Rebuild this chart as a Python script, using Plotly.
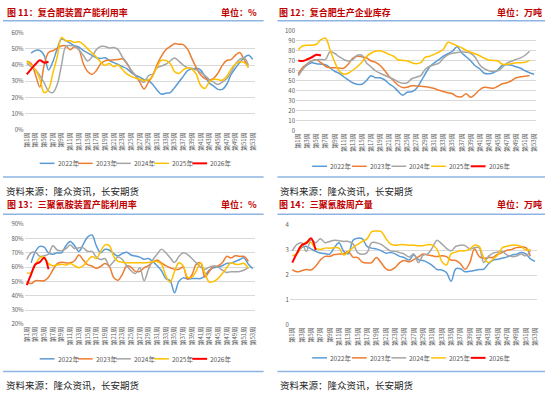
import plotly.graph_objects as go

W, H = 550, 399

WEEKS = list(range(1, 54))
TICK_WEEKS = list(range(1, 54, 2))
TICK_TEXT = [f"第{w}周" for w in TICK_WEEKS]
YEARS = ["2022年", "2023年", "2024年", "2025年", "2026年"]
COLORS = ["#5B9BD5", "#ED7D31", "#A5A5A5", "#FFC000", "#FF0000"]
WIDTHS = [1.5, 1.5, 1.5, 1.5, 2.0]

# ---------- 图11 复合肥装置产能利用率 (%) ----------
cf_util_2022 = [None, 47.4, 49, 49, 46, 37, 42, 50, 56, 55, 53.5, 52, 51, 49, 47.5, 46, 44.5, 44, 44.5,
                42.8, 41.5, 40.4, 39, 37.8, 35.5, 33.8, 32.5, 31, 30.3, 28, 24.5, 22, 22.6, 23, 26, 29.5,
                33, 36.5, 37.5, 38, 37, 33, 29, 27, 25, 25, 28, 34, 38, 41.5, 44.5, 46, 43.5]
cf_util_2023 = [42.4, 41, 34, 26.5, 40, 47.8, 48.8, 50.3, 51.8, 51.8, 49.4, 51.3, 49.4, 41, 36, 34.2, 36.5,
                40.8, 42.6, 43, 43.2, 43.4, 43.8, 41, 36.8, 33.5, 29.5, 25.2, 29.5, 33.5, 40.4, 45.5, 49.4,
                51.4, 53.2, 52.8, 52.6, 49.8, 44, 38.4, 34, 31.6, 30.8, 31.8, 35, 39.8, 42.8, 43.4, 46,
                47.8, 43.4, 38.5]
cf_util_2024 = [41, 39, 37, 33.5, 29, 24, 23, 28, 40, 51.5, 52, 51.5, 49.4, 46, 42.5, 45, 49.5, 51.5, 51.5,
                50.5, 50.8, 49.5, 45, 41.5, 37, 33.5, 30.5, 29.4, 33.4, 34.5, 38.4, 39.4, 40.5, 42.5, 44.4,
                42.4, 40, 38.4, 38, 37, 35.5, 33.5, 31, 29.4, 28, 29.5, 31.5, 35.5, 40.5, 43.5, 44.5, 40]
cf_util_2025 = [42.4, 40, 37, 31.5, 23, 25, 35, 45, 57, 55, 55, 54, 54.4, 52.8, 50, 47.5, 45, 41.8, 39.8,
                41, 39, 40, 37.2, 34.5, 33, 32, 31.2, 30.4, 30.8, 33.5, 39, 43, 42.8, 41, 36, 34.8, 37,
                38.4, 37.5, 34.4, 27.5, 25.5, 29.5, 31.2, 31, 30.6, 33, 37.5, 40.5, 42, 41.6, 38.6]
cf_util_2026 = [34.2, 37.5, 40.5, 43, 41.5, 42]

# ---------- 图12 复合肥生产企业库存 (万吨) ----------
cf_inv_2022 = [57, 62, 66, 68, 67, 66.5, 66, 63, 59.5, 57.5, 54, 51, 48, 46.5, 46.5, 50, 55, 53, 53, 51,
               47, 44, 39.5, 35.5, 38.5, 39, 42, 49, 57, 64, 68, 71, 74.5, 77, 79.5, 84, 78, 74, 70, 65,
               62, 57.5, 57, 58, 61, 65.5, 66, 65.5, 64, 62.5, 60, 58, 56.5]
cf_inv_2023 = [57, 63.5, 67, 70, 71, 68, 64.5, 63, 63, 62.8, 62.5, 66.5, 72.5, 74.5, 74, 73, 70, 68.5,
               65.5, 60.5, 54.5, 50, 45.5, 43.2, 43.5, 45, 44.8, 44.5, 44, 43.3, 42.2, 40.5, 39.3, 38, 37,
               34.2, 34, 37, 33.6, 36.5, 41, 43.5, 43, 42.5, 44.5, 47, 48, 50, 53, 54, 54.5, 55.2]
cf_inv_2024 = [55, 61.5, 67, 69.7, 71, 71.3, 71.3, 79, 77.5, 74, 71.3, 69.7, 71, 75.5, 75.5, 68, 64, 60,
               57.5, 55.5, 53.5, 51.5, 49, 47.5, 48, 52, 53.5, 55.2, 61.5, 64.5, 66, 67.5, 72.5, 76, 77.4,
               78.2, 78.7, 78.5, 77.5, 73.5, 66, 62, 60, 59.4, 60, 63.5, 67.5, 69.5, 71.3, 72.8, 75.5, 79.5]
cf_inv_2025 = [81, 85, 85.5, 85.5, 86.5, 91, 92.5, 81, 69, 60, 56.5, 57.5, 60.5, 64, 68.5, 74, 77.5, 79.5,
               80, 78.5, 76.5, 74.5, 71, 70.3, 70, 68, 67, 68, 73.5, 74.5, 76.5, 78.5, 81.5, 88.4, 87, 85,
               83, 80.5, 78.5, 77, 75, 72.5, 70.8, 70.3, 69.7, 66.5, 66.5, 67, 68, 68, 68.5, 70.3]
cf_inv_2026 = [70.3, 69.8, 71.5, 73.5, 76, 75.2]

# ---------- 图13 三聚氰胺装置产能利用率 (%) ----------
mel_util_2022 = [None, 63, 71, 74.5, 74, 70, 69, 70, 70, 75, 78, 75, 71, 76, 81, 82.5, 75, 70, 72.5, 72,
                 69.5, 67.8, 69.5, 70.4, 68.5, 67.8, 67, 65.5, 66, 64, 61, 57.5, 52, 50.5, 42, 50, 52.5,
                 51.8, 52, 52.1, 52, 54, 58, 59.6, 60.2, 61, 62.5, 62.8, 64, 65.3, 66.5, 62, 59]
mel_util_2023 = [49.4, 48.5, 50.5, 50.5, 50.5, 53, 58, 62.5, 63.5, 63, 63, 64.5, 68.5, 65, 61.8, 60.8, 59.2,
                 60.5, 62.5, 60.5, 52.8, 50.8, 55, 60.8, 60, 57, 57, 59.5, 61, 63.5, 65, 63, 61, 59.6, 58.5,
                 58.5, 60, 51.6, 54.5, 62, 63, 53, 57, 60.5, 60.8, 63, 67.5, 66.5, 68, 67.5, 67.5, 64]
mel_util_2024 = [65.3, 70, 70.4, 67.6, 68, 69, 75, 72, 71.5, 73, 75.5, 73, 73.5, 73.5, 71, 71, 67, 65.3,
                 66, 61, 64, 67, 65.3, 61, 57.5, 55.5, 59.5, 50.5, 58.5, 65, 69, 72.6, 70, 66.5, 63.2,
                 67.5, 70, 68.8, 66, 63, 60, 58.5, 60, 60.8, 60, 58, 56.3, 56.8, 56.8, 57, 58, 59.6]
mel_util_2025 = [56, 56, 62, 66.5, 67, 62.5, 61, 61.5, 62, 61.5, 62.5, 61, 59.6, 61, 64.5, 67.5, 66, 71,
                 75.6, 75, 67.6, 64, 63.5, 63, 63, 63, 63, 63, 63.3, 63.8, 64, 62, 54, 49.4, 57, 63, 61,
                 53, 53, 57.3, 63, 56, 49.5, 50, 52, 55.5, 59.5, 63, 62, 62, 62.6, 59]
mel_util_2026 = [47.5, 55, 62, 63.5, 66.5, 58.5]

# ---------- 图14 三聚氰胺周产量 (万吨) ----------
mel_out_2022 = [None, 2.85, 3.1, 3.15, 3.05, 2.95, 2.88, 2.86, 2.84, 3.1, 3.3, 2.95, 2.85, 3.4, 3.48, 3.45,
                3.15, 3.08, 3.05, 2.98, 2.88, 2.9, 2.85, 2.75, 2.7, 2.6, 2.8, 2.62, 2.58, 2.5, 2.38, 2.22,
                2.2, 2.1, 1.75, 2.25, 2.25, 2.13, 2.15, 2.18, 2.22, 2.24, 2.45, 2.6, 2.63, 2.68, 2.73, 2.8,
                2.84, 2.9, 2.85, 2.65, 2.55]
mel_out_2023 = [2.22, 2.13, 2.17, 2.22, 2.2, 2.35, 2.6, 2.75, 2.75, 2.82, 2.84, 2.85, 2.94, 2.72, 2.7, 2.52,
                2.48, 2.5, 2.7, 2.5, 2.26, 2.19, 2.3, 2.5, 2.58, 2.53, 2.62, 2.73, 2.84, 2.8, 2.77, 2.74,
                2.77, 2.74, 2.6, 2.58, 2.45, 2.23, 2.5, 3.05, 2.75, 2.67, 2.7, 2.71, 2.84, 2.9, 3.0, 3.03,
                3.1, 3.12, 3.1, 2.75]
mel_out_2024 = [2.97, 3.23, 3.29, 2.95, 3.4, 3.3, 3.46, 3.3, 3.35, 3.4, 3.38, 3.35, 3.35, 3.25, 2.9, 2.83,
                2.9, 3.3, 3.3, 3.23, 3.1, 2.97, 2.95, 2.9, 2.84, 2.72, 2.85, 2.5, 2.8, 2.85, 3.1, 3.4, 3.25,
                3.07, 2.97, 3.15, 3.2, 3.18, 3.05, 3.1, 3.1, 2.5, 2.75, 2.88, 2.92, 2.94, 2.8, 2.74, 2.76,
                2.84, 2.77, 2.97]
mel_out_2025 = [2.77, 2.85, 3.15, 3.33, 3.3, 3.07, 3.03, 3.08, 3.08, 3.1, 3.08, 2.8, 2.95, 3.1, 3.23, 3.35,
                3.45, 3.74, 3.77, 3.75, 3.48, 3.25, 3.2, 3.22, 3.22, 3.2, 3.2, 3.18, 3.18, 3.22, 3.2, 3.03,
                2.55, 2.4, 2.85, 2.92, 2.97, 2.97, 3.05, 3.2, 3.15, 2.7, 2.5, 2.65, 2.8, 3.1, 3.16, 3.2,
                3.2, 3.15, 3.0, 3.03]
mel_out_2026 = [2.5, 2.88, 3.2, 3.28, 3.48, 3.0]


def pad(v):
    return list(v) + [None] * (len(WEEKS) - len(v))


PANELS = [
    dict(series=[cf_util_2022, cf_util_2023, cf_util_2024, cf_util_2025, cf_util_2026],
         title="图 11：复合肥装置产能利用率", unit="单位：%",
         x0=21.8, x1=254.2, ytop=28, ybot=128, yr=(0, 60), dtick=10, suffix="%",
         tx=2, ux=258, ty=8, line=(0, 263), sep=16, bot=176, src=190, legx=37, legstep=38.5, legy=162),
    dict(series=[cf_inv_2022, cf_inv_2023, cf_inv_2024, cf_inv_2025, cf_inv_2026],
         title="图 12：复合肥生产企业库存", unit="单位：万吨",
         x0=295.7, x1=538.3, ytop=26, ybot=129, yr=(0, 100), dtick=10, suffix="",
         tx=277, ux=546, ty=8, line=(277, 547), sep=16, bot=176, src=190, legx=312, legstep=40, legy=165),
    dict(series=[mel_util_2022, mel_util_2023, mel_util_2024, mel_util_2025, mel_util_2026],
         title="图 13：三聚氰胺装置产能利用率", unit="单位：%",
         x0=21.8, x1=254.2, ytop=224, ybot=327, yr=(20, 90), dtick=10, suffix="%",
         tx=2, ux=258, ty=204, line=(0, 263), sep=214, bot=375, src=389, legx=37, legstep=38.5, legy=362),
    dict(series=[mel_out_2022, mel_out_2023, mel_out_2024, mel_out_2025, mel_out_2026],
         title="图 14：三聚氰胺周产量", unit="单位：万吨",
         x0=289.6, x1=539.4, ytop=225, ybot=327.5, yr=(0, 4), dtick=1, suffix="",
         tx=277, ux=546, ty=204, line=(277, 547), sep=214, bot=375, src=389, legx=312, legstep=40, legy=361),
]

FONT = "Noto Sans CJK SC"
TITLE_RED = "#C00000"
SEP_BLUE = "#8DB4E2"
GRID = "#D9D9D9"
TICK_GRAY = "#595959"

fig = go.Figure()
layout = dict(width=W, height=H, autosize=False,
              margin=dict(l=0, r=0, t=0, b=0, pad=0),
              paper_bgcolor="white", plot_bgcolor="white",
              showlegend=False, font=dict(family=FONT, size=6, color=TICK_GRAY))
shapes = []
annotations = []

for i, p in enumerate(PANELS, start=1):
    xa = "x" if i == 1 else f"x{i}"
    ya = "y" if i == 1 else f"y{i}"
    for s, name, c, lw in zip(p["series"], YEARS, COLORS, WIDTHS):
        fig.add_trace(go.Scatter(x=WEEKS, y=pad(s), name=name, mode="lines",
                                 line=dict(color=c, width=lw, shape="spline", smoothing=1.0),
                                 connectgaps=False, xaxis=xa, yaxis=ya))
    lo, hi = p["yr"]
    eps = (hi - lo) * 0.003
    key_x = "xaxis" if i == 1 else f"xaxis{i}"
    key_y = "yaxis" if i == 1 else f"yaxis{i}"
    layout[key_x] = dict(domain=[p["x0"] / W, p["x1"] / W], anchor=ya, range=[0.5, 53.5],
                         tickmode="array", tickvals=TICK_WEEKS, ticktext=TICK_TEXT, tickangle=-90,
                         showgrid=False, zeroline=False, showline=False, ticks="",
                         tickfont=dict(family=FONT, size=6, color=TICK_GRAY), fixedrange=True)
    layout[key_y] = dict(domain=[1 - p["ybot"] / H, 1 - p["ytop"] / H], anchor=xa,
                         range=[lo - eps, hi + eps], tickmode="linear", tick0=lo, dtick=p["dtick"],
                         ticksuffix=p["suffix"], showgrid=True, gridcolor=GRID, gridwidth=1,
                         zeroline=False, showline=False, ticks="",
                         tickfont=dict(family=FONT, size=6, color=TICK_GRAY), fixedrange=True)

    # title and unit
    annotations.append(dict(text="<b>" + p["title"] + "</b>", xref="paper", yref="paper",
                            x=p["tx"] / W, y=1 - p["ty"] / H, xanchor="left", yanchor="middle",
                            showarrow=False, font=dict(family=FONT, size=9, color=TITLE_RED)))
    annotations.append(dict(text="<b>" + p["unit"] + "</b>", xref="paper", yref="paper",
                            x=p["ux"] / W, y=1 - p["ty"] / H, xanchor="right", yanchor="middle",
                            showarrow=False, font=dict(family=FONT, size=9, color=TITLE_RED)))
    # separator lines
    for yy in (p["sep"], p["bot"]):
        shapes.append(dict(type="line", xref="paper", yref="paper",
                           x0=p["line"][0] / W, x1=p["line"][1] / W, y0=1 - yy / H, y1=1 - yy / H,
                           line=dict(color=SEP_BLUE, width=1.5)))
    # source
    annotations.append(dict(text="资料来源：隆众资讯，长安期货", xref="paper", yref="paper",
                            x=(p["line"][0] + 1) / W, y=1 - p["src"] / H, xanchor="left", yanchor="middle",
                            showarrow=False, font=dict(family=FONT, size=9.5, color="#262626")))
    # legend (manual, compact like the original)
    for k, (name, c, lw) in enumerate(zip(YEARS, COLORS, WIDTHS)):
        lx = p["legx"] + k * p["legstep"]
        shapes.append(dict(type="line", xref="paper", yref="paper",
                           x0=lx / W, x1=(lx + 15) / W, y0=1 - p["legy"] / H, y1=1 - p["legy"] / H,
                           line=dict(color=c, width=lw)))
        annotations.append(dict(text=name, xref="paper", yref="paper",
                                x=(lx + 16) / W, y=1 - p["legy"] / H, xanchor="left", yanchor="middle",
                                showarrow=False, font=dict(family=FONT, size=6.5, color=TICK_GRAY)))

layout["shapes"] = shapes
layout["annotations"] = annotations
fig.update_layout(**layout)
fig.write_html("out.html",
               config={"displayModeBar": False, "staticPlot": True},
               post_script="document.body.style.margin='0';document.body.style.padding='0';"
                           "document.body.style.overflow='hidden';")
